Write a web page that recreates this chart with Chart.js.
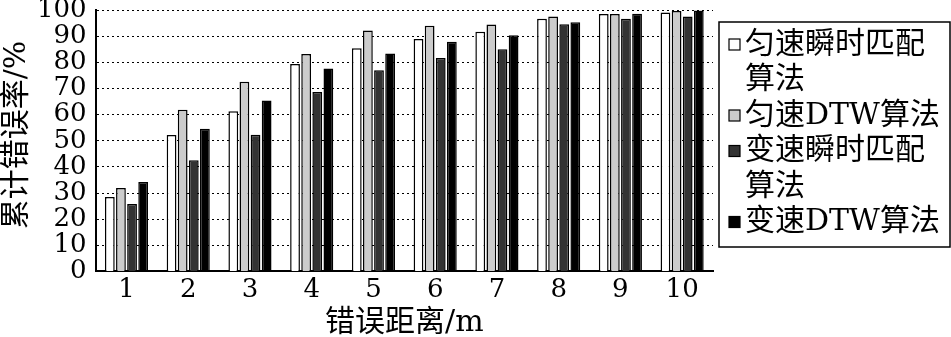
<!DOCTYPE html>
<html>
<head>
<meta charset="utf-8">
<script src="https://cdn.jsdelivr.net/npm/chart.js@4/dist/chart.umd.min.js"></script>
<style>
  html, body { margin: 0; padding: 0; background: #fff; }
  #wrap { width: 951px; height: 337px; }
</style>
</head>
<body>
<div id="wrap"><canvas id="chart" width="951" height="337"></canvas></div>
<script>
// ---- datos ----
const categorias = ["1", "2", "3", "4", "5", "6", "7", "8", "9", "10"];

const uniformeInstantaneo = [28.5, 52.2, 61.3, 79.4, 85.5, 89.0, 91.8, 96.8, 98.6, 99.2];
const uniformeDTW         = [31.9, 61.9, 72.6, 83.3, 92.3, 94.1, 94.6, 97.6, 98.6, 99.7];
const variableInstantaneo = [25.8, 42.6, 52.3, 68.7, 77.0, 81.7, 85.1, 94.7, 96.8, 97.6];
const variableDTW         = [34.2, 54.6, 65.5, 77.7, 83.5, 88.0, 90.4, 95.4, 98.7, 99.9];

const nombresSeries = [
  ["匀速瞬时匹配", "算法"],
  ["匀速DTW算法"],
  ["变速瞬时匹配", "算法"],
  ["变速DTW算法"],
];

const tituloY = "累计错误率/%";
const tituloX = "错误距离/m";

const COLORS = {
  blanco: "#ffffff",
  gris:   "#cccccc",
  oscuro: "#333333",
  negro:  "#000000",
  borde:  "#000000",
  grid:   "#000000",
};

const FONT = "'DejaVu Serif', 'Noto Sans CJK SC', serif";

// leyenda y título vertical dibujados a mano
const leyendaPlugin = {
  id: "leyendaCaja",
  afterDraw(chart) {
    const ctx = chart.ctx;
    ctx.save();

    // título eje Y, pegado al borde izquierdo como en el original
    ctx.save();
    ctx.translate(17, 135);
    ctx.rotate(-Math.PI / 2);
    ctx.font = "30px " + FONT;
    ctx.fillStyle = "#000";
    ctx.textAlign = "center";
    ctx.textBaseline = "middle";
    ctx.fillText(tituloY, 0, 0);
    ctx.restore();

    const x0 = 719, y0 = 22, x1 = 950, y1 = 247;
    ctx.strokeStyle = "#000";
    ctx.lineWidth = 1.5;
    ctx.strokeRect(x0, y0, x1 - x0, y1 - y0);
    ctx.font = "30px " + FONT;
    ctx.textBaseline = "middle";
    let y = 45;
    const paso = 35.5;
    chart.data.datasets.forEach((ds, i) => {
      ctx.fillStyle = ds.backgroundColor;
      ctx.fillRect(729, y - 6, 11, 11);
      ctx.strokeStyle = "#000";
      ctx.lineWidth = 1.2;
      ctx.strokeRect(729, y - 6, 11, 11);
      ctx.fillStyle = "#000";
      nombresSeries[i].forEach((linea) => {
        ctx.fillText(linea, 745, y);
        y += paso;
      });
    });
    ctx.restore();
  },
};

const datasets = [
  { label: nombresSeries[0].join(""), data: uniformeInstantaneo, backgroundColor: COLORS.blanco },
  { label: nombresSeries[1].join(""), data: uniformeDTW,         backgroundColor: COLORS.gris },
  { label: nombresSeries[2].join(""), data: variableInstantaneo, backgroundColor: COLORS.oscuro },
  { label: nombresSeries[3].join(""), data: variableDTW,         backgroundColor: COLORS.negro },
].map((d) => ({
  ...d,
  borderColor: COLORS.borde,
  borderWidth: 1.5,
  categoryPercentage: 0.72,
  barPercentage: 0.88,
}));

new Chart(document.getElementById("chart"), {
  type: "bar",
  data: { labels: categorias, datasets },
  plugins: [leyendaPlugin],
  options: {
    responsive: false,
    animation: false,
    devicePixelRatio: 1,
    layout: { padding: { top: 0, right: 238, bottom: 0, left: 28 } },
    plugins: {
      legend: { display: false },
      tooltip: { enabled: false },
    },
    scales: {
      x: {
        grid: { display: false, drawTicks: false },
        border: { color: "#000", width: 2 },
        ticks: {
          color: "#000",
          padding: 5,
          font: { family: FONT, size: 26, lineHeight: 1.1 },
        },
        title: {
          display: true,
          text: tituloX,
          color: "#000",
          padding: { top: 0, bottom: 0 },
          font: { family: FONT, size: 30, lineHeight: 0.9 },
        },
      },
      y: {
        min: 0,
        max: 100,
        grid: {
          color: COLORS.grid,
          lineWidth: 1,
          drawTicks: false,
        },
        border: { color: "#000", width: 2, dash: [2, 3] },
        ticks: {
          stepSize: 10,
          autoSkip: false,
          color: "#000",
          padding: 9,
          font: { family: FONT, size: 26, lineHeight: 0.1 },
        },
      },
    },
  },
});
</script>
</body>
</html>
